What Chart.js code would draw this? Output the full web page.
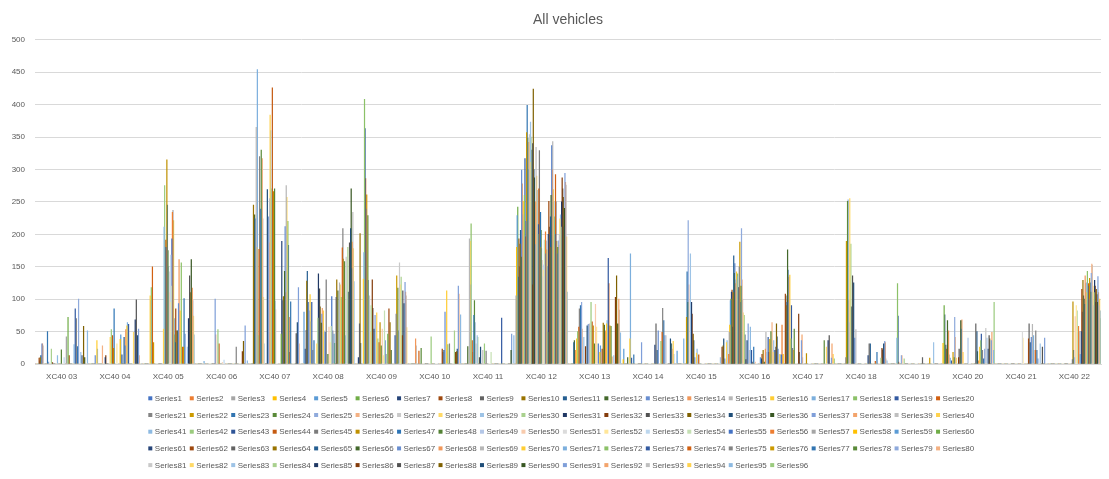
<!DOCTYPE html>
<html>
<head>
<meta charset="utf-8">
<title>All vehicles</title>
<script src="https://cdn.jsdelivr.net/npm/chart.js@4/dist/chart.umd.min.js"></script>
<style>
  html, body { margin: 0; padding: 0; background: #fff; }
  #wrap { width: 1109px; height: 479px; }
</style>
</head>
<body>
<div id="wrap"><canvas id="vehiclesChart" width="1109" height="479"></canvas></div>
<script>
const categories = ["XC40 03", "XC40 04", "XC40 05", "XC40 06", "XC40 07", "XC40 08", "XC40 09",
  "XC40 10", "XC40 11", "XC40 12", "XC40 13", "XC40 14", "XC40 15", "XC40 16", "XC40 17",
  "XC40 18", "XC40 19", "XC40 20", "XC40 21", "XC40 22"];
const yTicks = [0, 50, 100, 150, 200, 250, 300, 350, 400, 450, 500];
const seriesCount = 96;

// [series number, value] per category; series not listed are 0
const xc03 = [[8,9],[9,5],[10,10],[11,13],[13,31],[14,31],[15,28],[23,50],[25,3],[30,23],[32,2],[41,13],[48,22],[53,10],[57,42],[60,72],[62,13],[71,30],[73,85],[75,70],[77,27],[79,100],[83,18],[85,13],[88,58],[90,10],[95,51]];
const xc04 = [[13,13],[16,36],[17,23],[26,28],[31,10],[32,13],[40,41],[42,53],[44,44],[46,24],[47,85],[52,31],[58,38],[59,45],[61,14],[65,41],[67,28],[68,53],[70,59],[71,64],[73,61],[82,49],[85,68],[87,99],[89,44],[91,54],[92,13]];
const xc05 = [[16,105],[17,98],[18,118],[20,150],[22,33],[40,54],[41,211],[42,275],[43,180],[44,191],[45,180],[46,315],[47,245],[48,175],[49,150],[50,110],[51,142],[52,95],[53,168],[54,120],[55,193],[56,234],[57,237],[58,221],[59,70],[60,45],[61,33],[62,85],[64,51],[65,51],[67,93],[68,161],[70,82],[72,156],[74,26],[76,26],[77,101],[79,46],[83,26],[85,70],[87,136],[88,110],[90,161],[92,117],[93,98],[94,74],[95,45]];
const xc06 = [[17,4],[37,100],[38,45],[42,53],[44,31],[50,2],[53,6],[75,26],[86,19],[88,35],[91,59],[95,5]];
const xc07 = [[10,245],[11,225],[12,230],[13,224],[15,365],[16,180],[17,454],[18,44],[20,177],[21,320],[23,239],[24,330],[26,317],[27,224],[28,103],[29,31],[35,269],[37,227],[38,187],[39,255],[40,384],[41,360],[42,270],[44,426],[46,266],[48,270],[49,97],[50,84],[60,46],[61,189],[63,98],[64,104],[66,143],[67,212],[68,110],[69,275],[70,257],[72,220],[73,183],[74,72],[75,18],[77,96],[87,47],[89,64],[91,118],[92,31]];
const xc08 = [[5,80],[7,23],[9,52],[10,128],[11,143],[13,95],[15,82],[16,107],[17,65],[19,95],[21,21],[23,36],[28,31],[30,71],[31,139],[33,116],[34,88],[36,63],[37,77],[38,86],[40,82],[41,51],[43,49],[45,130],[48,15],[50,57],[52,33],[54,58],[55,104],[57,51],[59,46],[60,32],[63,103],[64,130],[66,113],[69,125],[70,122],[72,103],[74,179],[75,209],[76,162],[78,158],[79,44],[81,165],[84,180],[85,111],[87,187],[89,209],[90,270],[91,147],[92,188],[93,234],[94,178],[95,127]];
const xc09 = [[7,10],[9,62],[10,201],[11,32],[16,131],[17,172],[18,408],[19,363],[20,286],[21,239],[22,261],[24,229],[25,129],[27,105],[28,49],[30,90],[32,130],[33,86],[35,54],[37,75],[40,79],[42,39],[44,33],[46,64],[48,28],[50,54],[52,13],[54,82],[55,36],[57,15],[60,46],[62,85],[64,64],[66,21],[73,44],[75,77],[76,136],[78,117],[79,51],[81,156],[82,122],[84,134],[86,44],[87,113],[89,93],[91,126],[92,111],[93,105],[94,56]];
const xc10 = [[14,39],[15,28],[20,20],[24,24],[42,42],[62,23],[63,18],[65,21],[67,80],[70,113],[72,30],[75,31],[84,51],[86,18],[88,19],[89,23],[91,120],[92,108],[95,76]];
const xc11 = [[12,27],[15,193],[16,189],[17,122],[18,216],[20,36],[21,18],[23,75],[24,98],[25,64],[27,31],[29,44],[30,41],[33,10],[35,26],[39,21],[42,31],[45,20],[54,18],[73,71],[90,21],[91,46],[95,44]];
const xc12 = [[3,105],[4,180],[5,229],[6,242],[7,134],[8,193],[9,150],[10,185],[11,206],[12,165],[13,299],[14,278],[15,230],[16,251],[17,198],[18,260],[19,317],[20,196],[21,220],[22,357],[23,399],[24,348],[25,300],[26,342],[27,354],[28,311],[29,373],[30,350],[31,330],[32,122],[33,340],[34,424],[35,300],[36,287],[37,184],[38,250],[39,334],[40,290],[41,268],[42,200],[43,215],[44,270],[45,329],[46,180],[47,234],[48,206],[49,178],[50,160],[51,135],[52,145],[53,153],[54,191],[55,170],[56,204],[57,190],[58,176],[59,150],[60,49],[61,200],[62,251],[63,211],[64,180],[65,227],[66,260],[67,337],[68,300],[69,343],[70,269],[71,250],[72,227],[73,200],[74,292],[75,250],[76,189],[77,170],[78,180],[79,190],[80,183],[81,200],[82,224],[83,230],[84,211],[85,250],[86,287],[87,270],[88,257],[89,211],[90,240],[91,294],[92,280],[93,276],[94,196],[95,111]];
const xc13 = [[11,33],[12,36],[14,21],[16,39],[18,50],[20,57],[21,85],[23,90],[25,95],[26,54],[29,41],[32,27],[35,59],[37,61],[39,62],[42,95],[44,65],[46,59],[48,31],[50,92],[52,57],[55,31],[58,18],[59,28],[62,23],[64,63],[66,60],[68,51],[70,62],[71,67],[73,163],[74,124],[76,59],[78,58],[80,11],[83,13],[86,103],[88,136],[90,62],[92,100],[93,83],[95,48]];
const xc14 = [[4,7],[5,23],[12,10],[16,39],[17,170],[19,9],[23,14],[37,33],[61,29],[63,62],[65,21],[67,51],[72,35],[74,49],[75,86],[77,67],[79,44],[81,44],[89,39],[90,31],[91,31],[92,23],[94,35],[95,15]];
const xc15 = [[5,20],[17,39],[22,72],[23,142],[24,95],[25,221],[26,122],[29,170],[31,95],[32,77],[34,46],[35,36],[37,10],[40,17],[41,23],[44,14],[83,10],[86,26],[88,28],[89,39],[91,8],[94,33],[95,36]];
const xc16 = [[2,15],[3,49],[4,60],[5,98],[6,100],[7,111],[8,114],[9,57],[10,110],[11,167],[12,140],[13,155],[14,124],[15,130],[16,142],[17,135],[18,139],[19,118],[20,118],[21,150],[22,188],[23,95],[24,120],[25,209],[26,130],[27,100],[28,79],[30,75],[31,45],[33,7],[35,36],[37,62],[39,21],[41,57],[43,21],[45,3],[47,26],[50,3],[59,10],[61,8],[62,15],[64,21],[66,3],[68,23],[69,49],[71,18],[73,41],[74,18],[76,38],[78,50],[80,64],[82,18],[83,36],[85,21],[87,26],[88,62],[89,42],[91,23],[94,15],[95,14]];
const xc17 = [[1,14],[2,60],[4,15],[8,108],[9,105],[10,90],[11,95],[12,176],[13,145],[14,134],[16,137],[18,39],[19,90],[21,24],[22,21],[24,54],[32,77],[33,18],[37,36],[38,45],[39,10],[46,16],[78,36],[82,26],[85,36],[87,44],[91,9],[92,31],[94,15],[96,8]];
const xc18 = [[21,10],[22,189],[24,251],[25,253],[26,98],[27,64],[28,255],[30,185],[31,88],[33,136],[35,125],[37,40],[39,53],[61,13],[63,31],[65,31],[74,4],[77,18],[84,9],[86,24],[87,22],[89,31],[91,35],[92,33],[93,8],[95,5]];
const xc19 = [[17,40],[18,124],[19,74],[20,3],[25,13],[26,13],[30,8],[63,10],[76,9],[83,33]];
const xc20 = [[4,32],[6,90],[7,76],[9,29],[10,23],[12,67],[14,51],[15,14],[17,9],[19,5],[22,18],[24,10],[25,72],[26,41],[28,9],[32,10],[33,23],[36,67],[37,54],[38,68],[40,18],[49,40],[63,62],[65,50],[66,19],[68,5],[70,26],[72,36],[73,46],[75,21],[77,8],[79,23],[81,55],[83,40],[85,23],[87,44],[88,39],[91,36],[92,49],[95,21],[96,95]];
const xc21 = [[51,50],[52,40],[62,39],[63,62],[65,33],[67,41],[69,61],[71,44],[74,21],[75,51],[77,21],[79,8],[83,31],[87,26],[91,40]];
const xc22 = [[45,7],[46,96],[47,21],[49,10],[50,73],[52,90],[54,82],[56,58],[57,50],[59,15],[61,50],[62,115],[63,80],[64,129],[65,105],[66,100],[67,92],[68,136],[69,124],[70,110],[71,125],[72,143],[73,120],[74,124],[75,100],[76,132],[77,125],[78,111],[79,140],[80,154],[81,152],[82,120],[83,90],[84,110],[85,129],[86,120],[87,95],[88,115],[89,107],[90,95],[91,135],[92,110],[93,90],[94,100],[95,82],[96,70]];

const byCategory = [xc03, xc04, xc05, xc06, xc07, xc08, xc09, xc10, xc11, xc12,
  xc13, xc14, xc15, xc16, xc17, xc18, xc19, xc20, xc21, xc22];

// office theme accents, in the order the shades repeat
const shades = [
  ["#4472C4", "#ED7D31", "#A5A5A5", "#FFC000", "#5B9BD5", "#70AD47"],
  ["#264478", "#9E480E", "#636363", "#997300", "#255E91", "#43682B"],
  ["#698ED0", "#F1975A", "#B7B7B7", "#FFCD33", "#7CAFDD", "#8CC168"],
  ["#335AA1", "#D26012", "#848484", "#CC9A00", "#3275B1", "#5A8A39"],
  ["#8FAADC", "#F4B183", "#C9C9C9", "#FFD966", "#9DC3E6", "#A9D18E"],
  ["#203864", "#843C0C", "#525252", "#7F6000", "#1F4E79", "#385723"],
  ["#7F9FD9", "#F3A46C", "#BFBFBF", "#FFD24D", "#8DBAE2", "#9BCB7E"],
  ["#2F5597", "#C55A11", "#7B7B7B", "#BF9000", "#2E75B6", "#548235"],
  ["#B4C7E7", "#F8CBAD", "#DBDBDB", "#FFE699", "#BDD7EE", "#C5E0B4"]
];

const datasets = [];
for (let s = 0; s < seriesCount; s++) {
    const row = new Array(categories.length).fill(0);
    byCategory.forEach((pairs, k) => {
        pairs.forEach(([n, v]) => { if (n === s + 1) row[k] = v; });
    });
    const color = shades[Math.floor(s / 6) % shades.length][s % 6];
    datasets.push({
        label: "Series" + (s + 1),
        data: row,
        backgroundColor: color,
        borderWidth: 0,
        categoryPercentage: 1,
        barPercentage: 1
    });
}

// excel style legend: fixed 20 column grid under the axis
const gridLegend = {
    id: "gridLegend",
    afterDraw(chart) {
        const ctx = chart.ctx;
        ctx.save();
        ctx.font = '8px "Liberation Sans", Arial, sans-serif';
        ctx.textBaseline = "middle";
        ctx.textAlign = "left";
        chart.data.datasets.forEach((ds, i) => {
            const x = 148.3 + (i % 20) * 41.46;
            const y = 398.3 + Math.floor(i / 20) * 16.7;
            ctx.fillStyle = ds.backgroundColor;
            ctx.fillRect(x, y - 2, 4, 4);
            ctx.fillStyle = "#595959";
            ctx.fillText(ds.label, x + 6.5, y + 0.5);
        });
        ctx.restore();
    }
};

new Chart(document.getElementById("vehiclesChart"), {
    type: "bar",
    data: { labels: categories, datasets: datasets },
    plugins: [gridLegend],
    options: {
        responsive: false,
        animation: false,
        layout: { padding: { top: 0, right: 8, bottom: 89, left: 0 } },
        plugins: {
            legend: { display: false },
            tooltip: { enabled: false },
            title: {
                display: true,
                text: "All vehicles",
                fullSize: false,
                color: "#595959",
                font: { family: '"Liberation Sans", Arial, sans-serif', size: 14, weight: "normal" },
                padding: { top: 12, bottom: 11 }
            }
        },
        scales: {
            x: {
                grid: { display: false, drawTicks: false },
                border: { display: true, color: "#d9d9d9" },
                ticks: {
                    color: "#595959",
                    padding: 8,
                    maxRotation: 0,
                    autoSkip: false,
                    font: { family: '"Liberation Sans", Arial, sans-serif', size: 8 }
                },
                afterFit(scale) { scale.height = 26; }
            },
            y: {
                min: yTicks[0],
                max: yTicks[yTicks.length - 1],
                afterBuildTicks(scale) { scale.ticks = yTicks.map(v => ({ value: v })); },
                grid: { color: "#d9d9d9", drawTicks: false },
                border: { display: false },
                ticks: {
                    color: "#595959",
                    padding: 10,
                    font: { family: '"Liberation Sans", Arial, sans-serif', size: 8 }
                },
                afterFit(scale) { scale.width = 35; }
            }
        }
    }
});
</script>
</body>
</html>
